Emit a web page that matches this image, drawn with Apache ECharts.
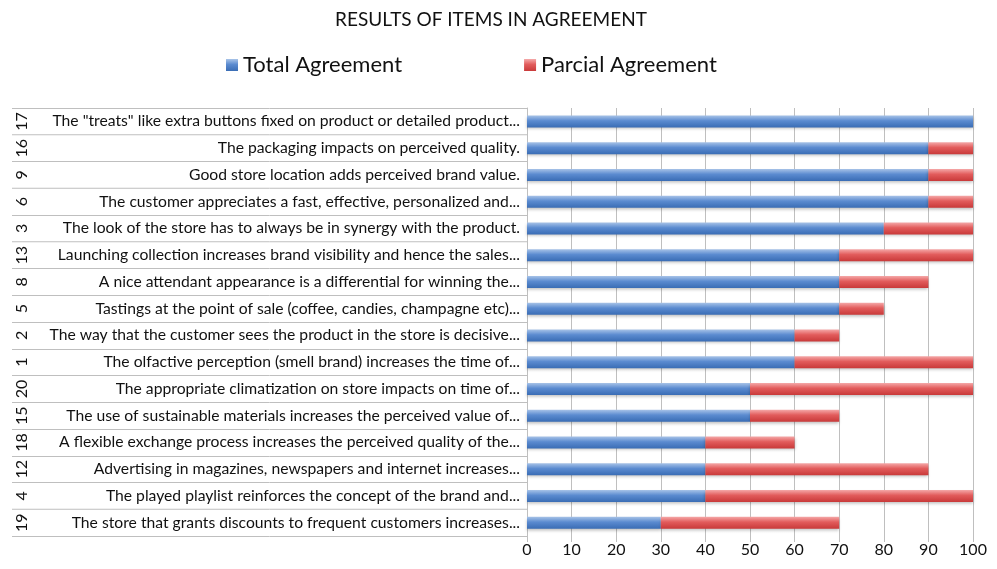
<!DOCTYPE html>
<html>
<head>
<meta charset="utf-8">
<script src="https://cdn.jsdelivr.net/npm/echarts@6/dist/echarts.min.js"></script>
<style>
html,body{margin:0;padding:0;background:#fff;}
#chart{width:997px;height:569px;}
</style>
</head>
<body>
<div id="chart"></div>
<script>
const itemNumbers = ["17","16","9","6","3","13","8","5","2","1","20","15","18","12","4","19"];
const itemTexts = [
  'The "treats" like extra buttons fixed on product or detailed product...',
  'The packaging impacts on perceived quality.',
  'Good store location adds perceived brand value.',
  'The customer appreciates a fast, effective, personalized and...',
  'The look of the store has to always be in synergy with the product.',
  'Launching collection increases brand visibility and hence the sales...',
  'A nice attendant appearance is a differential for winning the...',
  'Tastings at the point of sale (coffee, candies, champagne etc)...',
  'The way that the customer sees the product in the store is decisive...',
  'The olfactive perception (smell brand) increases the time of...',
  'The appropriate climatization on store impacts on time of...',
  'The use of sustainable materials increases the perceived value of...',
  'A flexible exchange process increases the perceived quality of the...',
  'Advertising in magazines, newspapers and internet increases...',
  'The played playlist reinforces the concept of the brand and...',
  'The store that grants discounts to frequent customers increases...'
];
const totalAgreement =   [100,90,90,90,80,70,70,70,60,60,50,50,40,40,40,30];
const parcialAgreement = [0,10,10,10,20,30,20,10,10,40,50,20,20,50,60,40];
const xTicks = {min:0, max:100, interval:10};

const FONT = 'Lato';
const chart = echarts.init(document.getElementById('chart'));
const blueGrad = new echarts.graphic.LinearGradient(0,0,0,1,[
  {offset:0,color:'#a9c4e8'},{offset:0.45,color:'#5b8bd0'},{offset:1,color:'#3a6db5'}]);
const redGrad = new echarts.graphic.LinearGradient(0,0,0,1,[
  {offset:0,color:'#f5aaaa'},{offset:0.45,color:'#e25c5c'},{offset:1,color:'#c93a3a'}]);

chart.setOption({
  animation:false,
  backgroundColor:'#fff',
  title:{
    text:'RESULTS OF ITEMS IN AGREEMENT',
    left:330, top:5,
    textStyle:{fontFamily:FONT,fontSize:19,fontWeight:'normal',color:'#111'}
  },
  legend:{
    left:221, top:49, itemWidth:12, itemHeight:12, itemGap:122, icon:'rect',
    textStyle:{fontFamily:FONT,fontSize:22,color:'#111',padding:[0,0,0,0]},
    data:['Total Agreement','Parcial Agreement']
  },
  grid:{left:527,right:24,top:108,bottom:33,containLabel:false},
  xAxis:{
    type:'value', min:xTicks.min, max:xTicks.max, interval:xTicks.interval,
    axisLine:{show:false},
    axisTick:{show:true,length:6,lineStyle:{color:'#bfbfbf'}},
    splitLine:{show:true,lineStyle:{color:'#bfbfbf',width:1}},
    axisLabel:{fontFamily:FONT,fontSize:16,color:'#111',margin:6}
  },
  yAxis:[
    {
      type:'category', inverse:true, data:itemTexts, position:'left',
      axisLine:{show:true,lineStyle:{color:'#bfbfbf'}},
      axisTick:{show:true,length:515,alignWithLabel:false,lineStyle:{color:'#bfbfbf'}},
      axisLabel:{fontFamily:FONT,fontSize:15.7,color:'#111',margin:7,align:'right'}
    },
    {
      type:'category', inverse:true, data:itemNumbers, position:'left', offset:497,
      axisLine:{show:false}, axisTick:{show:false},
      axisLabel:{fontFamily:FONT,fontSize:16,color:'#111',rotate:90,margin:0}
    }
  ],
  series:[
    {name:'Total Agreement',type:'bar',stack:'a',yAxisIndex:0,barWidth:12,
     data:totalAgreement,
     itemStyle:{color:blueGrad,shadowColor:'rgba(0,0,0,0.25)',shadowBlur:3,shadowOffsetY:2}},
    {name:'Parcial Agreement',type:'bar',stack:'a',yAxisIndex:0,barWidth:12,
     data:parcialAgreement,
     itemStyle:{color:redGrad,shadowColor:'rgba(0,0,0,0.25)',shadowBlur:3,shadowOffsetY:2}}
  ]
});
</script>
</body>
</html>
